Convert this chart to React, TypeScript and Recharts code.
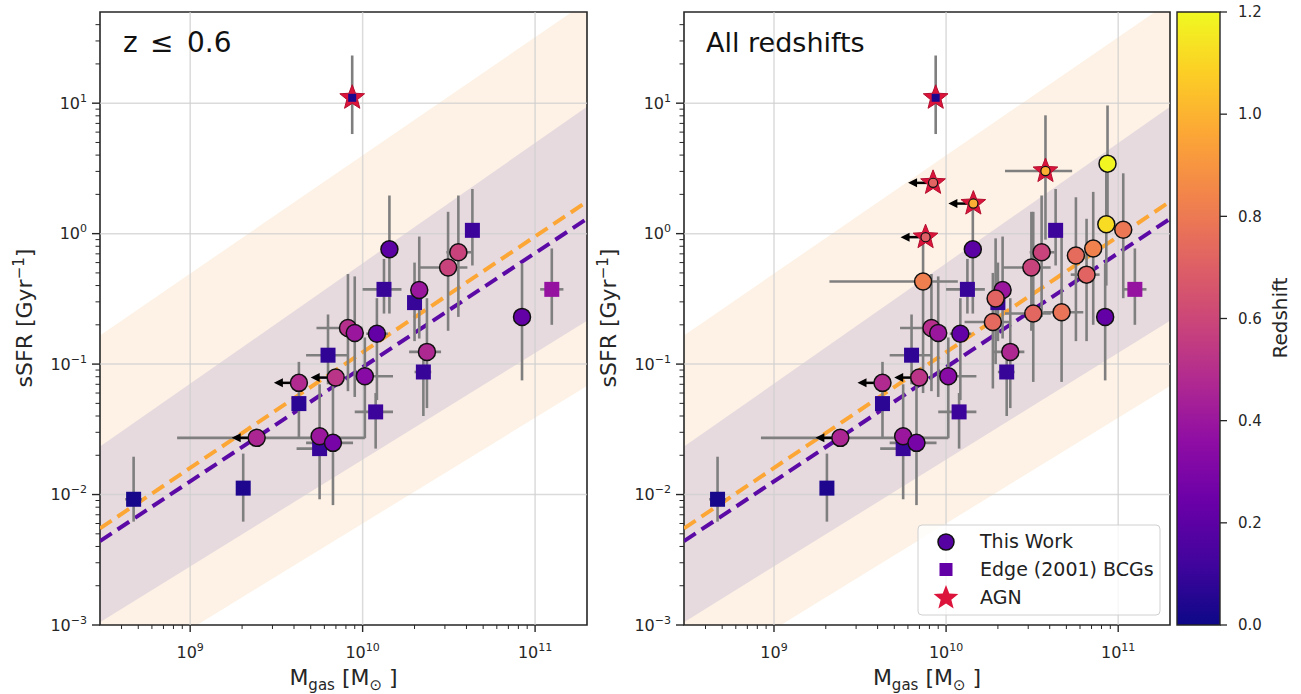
import React from "react";
import {
  Area,
  ComposedChart,
  ErrorBar,
  Line,
  ReferenceArea,
  ReferenceLine,
  Scatter,
  XAxis,
  YAxis,
} from "recharts";

type Pt = {
  m: number;
  s: number;
  z: number;
  mLo?: number;
  mHi?: number;
  sLo?: number;
  sHi?: number;
  lim?: boolean;
  host?: "edge" | "work";
};

// "This Work" clusters (circles)
const THIS_WORK: Pt[] = [
  { m: 2.43e9, s: 0.0272, z: 0.46, mLo: 8.4e8, mHi: 1.03e10, lim: true },
  { m: 4.27e9, s: 0.0718, z: 0.48, lim: true },
  { m: 6.98e9, s: 0.0788, z: 0.52, lim: true },
  { m: 5.63e9, s: 0.028, z: 0.4, sLo: 0.0092, sHi: 0.07 },
  { m: 6.73e9, s: 0.0249, z: 0.28, mLo: 4.7e9, mHi: 8.8e9, sLo: 0.0083, sHi: 0.079 },
  { m: 8.22e9, s: 0.189, z: 0.5, mLo: 5.4e9, mHi: 1.0e10, sLo: 0.062, sHi: 0.49 },
  { m: 9.0e9, s: 0.173, z: 0.4, sLo: 0.056, sHi: 0.47 },
  { m: 1.21e10, s: 0.171, z: 0.22, mLo: 1.05e10, mHi: 1.4e10, sLo: 0.053, sHi: 0.32 },
  { m: 1.03e10, s: 0.0806, z: 0.34, mLo: 9.2e9, mHi: 1.5e10, sLo: 0.027, sHi: 0.16 },
  { m: 1.43e10, s: 0.76, z: 0.2, sLo: 0.244, sHi: 1.96 },
  { m: 2.13e10, s: 0.37, z: 0.4, sLo: 0.157, sHi: 0.95 },
  { m: 2.36e10, s: 0.124, z: 0.47, mLo: 1.86e10, mHi: 2.85e10, sLo: 0.046, sHi: 0.32 },
  { m: 3.13e10, s: 0.55, z: 0.58, mLo: 2.14e10, mHi: 4.05e10, sLo: 0.18, sHi: 1.47 },
  { m: 3.59e10, s: 0.72, z: 0.58, mLo: 3.06e10, mHi: 4.27e10, sLo: 0.23, sHi: 1.96 },
  { m: 8.4e10, s: 0.23, z: 0.22, sLo: 0.075, sHi: 0.59 },
  { m: 7.35e9, s: 0.43, z: 0.82, mLo: 2.1e9, mHi: 1.17e10, sLo: 0.06, sHi: 0.94 },
  { m: 1.94e10, s: 0.318, z: 0.72, sLo: 0.1, sHi: 0.92 },
  { m: 1.87e10, s: 0.21, z: 0.74, mLo: 1.28e10, mHi: 2.33e10, sLo: 0.065, sHi: 0.5 },
  { m: 3.21e10, s: 0.244, z: 0.73, mLo: 2.2e10, mHi: 4.06e10, sLo: 0.073, sHi: 1.47 },
  { m: 4.69e10, s: 0.25, z: 0.78, mLo: 3.67e10, mHi: 6.27e10, sLo: 0.073, sHi: 1.0 },
  { m: 5.68e10, s: 0.68, z: 0.75, sLo: 0.15, sHi: 1.9 },
  { m: 6.55e10, s: 0.485, z: 0.72, mLo: 5.3e10, mHi: 7.8e10, sLo: 0.15, sHi: 1.3 },
  { m: 7.16e10, s: 0.77, z: 0.83, sLo: 0.2, sHi: 2.09 },
  { m: 8.53e10, s: 1.18, z: 1.12, mLo: 7.9e10, mHi: 9.2e10, sLo: 0.4, sHi: 3.3 },
  { m: 8.67e10, s: 3.44, z: 1.19, sLo: 1.1, sHi: 9.6 },
  { m: 1.07e11, s: 1.07, z: 0.79, sLo: 0.32, sHi: 2.9 },
];

// Edge (2001) BCGs (squares)
const EDGE_BCGS: Pt[] = [
  { m: 4.7e8, s: 0.0092, z: 0.02, mLo: 4.2e8, mHi: 5.25e8, sLo: 0.0062, sHi: 0.0195 },
  { m: 2.03e9, s: 0.0112, z: 0.04, sLo: 0.0062, sHi: 0.0206 },
  { m: 4.27e9, s: 0.0498, z: 0.07, sLo: 0.0269, sHi: 0.104 },
  { m: 5.63e9, s: 0.0225, z: 0.1, mLo: 4.14e9, mHi: 6.72e9 },
  { m: 6.3e9, s: 0.117, z: 0.08, mLo: 4.7e9, mHi: 8.2e9, sLo: 0.07, sHi: 0.24 },
  { m: 1.19e10, s: 0.043, z: 0.11, mLo: 9.0e9, mHi: 1.5e10, sLo: 0.0225, sHi: 0.06 },
  { m: 1.33e10, s: 0.374, z: 0.1, mLo: 1.0e10, mHi: 1.68e10, sLo: 0.244, sHi: 0.64 },
  { m: 2.0e10, s: 0.296, z: 0.1, sLo: 0.15, sHi: 0.6 },
  { m: 2.25e10, s: 0.087, z: 0.1, mLo: 2.0e10, mHi: 2.5e10, sLo: 0.04, sHi: 0.14 },
  { m: 4.33e10, s: 1.06, z: 0.11, sLo: 0.57, sHi: 2.2 },
  { m: 1.25e11, s: 0.374, z: 0.38, mLo: 1.07e11, mHi: 1.46e11, sLo: 0.2, sHi: 0.77 },
];

// AGN hosts (stars)
const AGN: Pt[] = [
  { m: 8.7e9, s: 11.0, z: 0.03, host: "edge", sLo: 5.8, sHi: 23.2 },
  { m: 8.4e9, s: 2.45, z: 0.72, host: "work", lim: true },
  { m: 1.44e10, s: 1.7, z: 0.98, host: "work", lim: true },
  { m: 7.6e9, s: 0.94, z: 0.7, host: "work", lim: true },
  { m: 3.78e10, s: 3.02, z: 0.98, host: "work", mLo: 2.2e10, mHi: 5.4e10, sLo: 0.9, sHi: 8.07 },
];

// fits and scatter bands, read at the two x-limits
const FIT_MASS = [3e8, 2e11];
const FIT_ORANGE = [0.0055, 1.76];
const FIT_PURPLE = [0.0044, 1.3];
const OUTER_LO = [0.00035, 0.068];
const OUTER_HI = [0.166, 60];
const INNER_LO = [0.00105, 0.215];
const INNER_HI = [0.0233, 9.4];

const X_MAJOR = [1e9, 1e10, 1e11];
const X_MINOR = [
  4e8, 5e8, 6e8, 7e8, 8e8, 9e8, 2e9, 3e9, 4e9, 5e9, 6e9, 7e9, 8e9, 9e9, 2e10,
  3e10, 4e10, 5e10, 6e10, 7e10, 8e10, 9e10,
];
const Y_MAJOR = [0.001, 0.01, 0.1, 1, 10];
const Y_MINOR = [
  0.002, 0.003, 0.004, 0.005, 0.006, 0.007, 0.008, 0.009, 0.02, 0.03, 0.04,
  0.05, 0.06, 0.07, 0.08, 0.09, 0.2, 0.3, 0.4, 0.5, 0.6, 0.7, 0.8, 0.9, 2, 3,
  4, 5, 6, 7, 8, 9, 20, 30, 40,
];
const Z_TICKS = [0, 0.2, 0.4, 0.6, 0.8, 1.0, 1.2];

const PLASMA = [
  "#0d0887", "#41049d", "#6a00a8", "#8f0da4", "#b12a90", "#cc4778",
  "#e16462", "#f2844b", "#fca636", "#fcce25", "#f0f921",
];

const FONT = "DejaVu Sans, sans-serif";
const INK = "#262626";

function plasma(z: number) {
  const t = Math.min(1, Math.max(0, z / 1.2)) * 10;
  const i = Math.min(9, Math.floor(t));
  const f = t - i;
  const a = PLASMA[i];
  const b = PLASMA[i + 1];
  const ch = (h: string, k: number) => parseInt(h.slice(k, k + 2), 16);
  const mix = (k: number) => Math.round(ch(a, k) + (ch(b, k) - ch(a, k)) * f);
  return `rgb(${mix(1)},${mix(3)},${mix(5)})`;
}

const fitRows = FIT_MASS.map((m, i) => ({
  m,
  orange: FIT_ORANGE[i],
  purple: FIT_PURPLE[i],
  outer: [OUTER_LO[i], OUTER_HI[i]],
  inner: [INNER_LO[i], INNER_HI[i]],
}));

const withErr = (p: Pt) => ({
  ...p,
  ex: p.mLo != null ? [p.m - p.mLo, (p.mHi as number) - p.m] : null,
  ey: p.sLo != null ? [p.s - p.sLo, (p.sHi as number) - p.s] : null,
});

const expLabel = (v: number) => {
  const e = Math.round(Math.log10(v));
  return e < 0 ? "\u2212" + -e : String(e);
};

function XTick(props: any) {
  const { x, y, payload } = props;
  const major = X_MAJOR.includes(payload.value);
  return (
    <g>
      <line x1={x} x2={x} y1={y} y2={y + (major ? 7 : 4)} stroke={INK} strokeWidth={major ? 1.4 : 1} />
      {major && (
        <text x={x} y={y + 33} textAnchor="middle" fontSize={16} fill={INK} fontFamily={FONT}>
          10<tspan dy={-7} fontSize={11}>{expLabel(payload.value)}</tspan>
        </text>
      )}
    </g>
  );
}

function YTick(props: any) {
  const { x, y, payload } = props;
  const major = Y_MAJOR.includes(payload.value);
  return (
    <g>
      <line x1={x} x2={x - (major ? 8 : 4.5)} y1={y} y2={y} stroke={INK} strokeWidth={major ? 1.4 : 1} />
      {major && (
        <text x={x - 13} y={y + 5.5} textAnchor="end" fontSize={16} fill={INK} fontFamily={FONT}>
          10<tspan dy={-7} fontSize={11}>{expLabel(payload.value)}</tspan>
        </text>
      )}
    </g>
  );
}

function YTitle({ px }: any) {
  return (
    <text
      transform={`translate(${px}, 318) rotate(-90)`}
      textAnchor="middle"
      fontSize={22}
      fill={INK}
      fontFamily={FONT}
    >
      sSFR [Gyr<tspan dy={-8} fontSize={15}>{"\u22121"}</tspan>
      <tspan dy={8}>]</tspan>
    </text>
  );
}

function XTitle({ px }: any) {
  return (
    <text x={px} y={685} textAnchor="middle" fontSize={22} fill={INK} fontFamily={FONT}>
      M<tspan dy={5} fontSize={15}>gas</tspan>
      <tspan dy={-5}> [M</tspan>
      <tspan dy={5} fontSize={15}>{"\u2299"}</tspan>
      <tspan dy={-5}> ]</tspan>
    </text>
  );
}

function LimitArrow({ cx, cy }: { cx: number; cy: number }) {
  return (
    <g>
      <line x1={cx} y1={cy} x2={cx - 17} y2={cy} stroke="#000" strokeWidth={2.5} />
      <polygon points={`${cx - 25},${cy} ${cx - 16},${cy - 4.5} ${cx - 16},${cy + 4.5}`} fill="#000" />
    </g>
  );
}

function CircleMark(props: any) {
  const { cx, cy, payload } = props;
  return (
    <g>
      {payload.lim && <LimitArrow cx={cx} cy={cy} />}
      <circle cx={cx} cy={cy} r={8.5} fill={plasma(payload.z)} stroke="#111" strokeWidth={1.5} />
    </g>
  );
}

function SquareMark(props: any) {
  const { cx, cy, payload } = props;
  return <rect x={cx - 7.5} y={cy - 7.5} width={15} height={15} fill={plasma(payload.z)} />;
}

function starPoints(cx: number, cy: number, R: number, r: number) {
  const pts: string[] = [];
  for (let i = 0; i < 10; i++) {
    const a = -Math.PI / 2 + (i * Math.PI) / 5;
    const rad = i % 2 === 0 ? R : r;
    pts.push(`${cx + rad * Math.cos(a)},${cy + rad * Math.sin(a)}`);
  }
  return pts.join(" ");
}

function StarMark(props: any) {
  const { cx, cy, payload } = props;
  return (
    <g>
      {payload.lim && <LimitArrow cx={cx} cy={cy} />}
      <polygon points={starPoints(cx, cy, 13, 5.6)} fill="#dc143c" stroke="#b3102f" strokeWidth={1} />
      {payload.host === "edge" ? (
        <rect x={cx - 4} y={cy - 4} width={8} height={8} fill={plasma(payload.z)} />
      ) : (
        <circle cx={cx} cy={cy} r={4.6} fill={plasma(payload.z)} stroke="#111" strokeWidth={1.2} />
      )}
    </g>
  );
}

const Empty = () => <g />;

function Panel({ width, axisWidth, rightMargin, maxZ }: any) {
  const circles = THIS_WORK.filter((p) => p.z <= maxZ);
  const stars = AGN.filter((p) => p.z <= maxZ);
  const errs = [...EDGE_BCGS, ...circles, ...stars].map(withErr);
  return (
    <ComposedChart
      width={width}
      height={694}
      data={fitRows}
      margin={{ top: 12, right: rightMargin, bottom: 0, left: 0 }}
    >
      <XAxis
        dataKey="m"
        type="number"
        scale="log"
        domain={[3e8, 2e11]}
        allowDataOverflow
        ticks={[...X_MAJOR, ...X_MINOR]}
        interval={0}
        tick={(p: any) => <XTick {...p} />}
        tickLine={false}
        axisLine={false}
        tickSize={0}
        tickMargin={0}
        height={69}
        label={<XTitle px={axisWidth + (width - axisWidth - rightMargin) / 2} />}
      />
      <YAxis
        type="number"
        scale="log"
        domain={[0.001, 50]}
        allowDataOverflow
        ticks={[...Y_MAJOR, ...Y_MINOR]}
        interval={0}
        tick={(p: any) => <YTick {...p} />}
        tickLine={false}
        axisLine={false}
        tickSize={0}
        tickMargin={0}
        width={axisWidth}
        label={<YTitle px={axisWidth - 68} />}
      />
      <Area dataKey="outer" type="linear" stroke="none" fill="#fdf2e5" fillOpacity={1} dot={false} activeDot={false} isAnimationActive={false} />
      <Area dataKey="inner" type="linear" stroke="none" fill="#e7dadf" fillOpacity={1} dot={false} activeDot={false} isAnimationActive={false} />
      {X_MAJOR.map((v) => (
        <ReferenceLine key={`gx${v}`} x={v} stroke="#cfcfcf" strokeOpacity={0.75} strokeWidth={1.5} />
      ))}
      {Y_MAJOR.filter((v) => v > 0.001).map((v) => (
        <ReferenceLine key={`gy${v}`} y={v} stroke="#cfcfcf" strokeOpacity={0.75} strokeWidth={1.5} />
      ))}
      <Line dataKey="orange" type="linear" stroke="#fca636" strokeWidth={4} strokeDasharray="14 7" dot={false} activeDot={false} isAnimationActive={false} />
      <Line dataKey="purple" type="linear" stroke="#5c0aa5" strokeWidth={4} strokeDasharray="14 7" dot={false} activeDot={false} isAnimationActive={false} />
      <Scatter data={errs} dataKey="s" shape={Empty} isAnimationActive={false}>
        <ErrorBar dataKey="ex" direction="x" width={0} stroke="#7f7f7f" strokeWidth={2.6} isAnimationActive={false} />
        <ErrorBar dataKey="ey" direction="y" width={0} stroke="#7f7f7f" strokeWidth={2.6} isAnimationActive={false} />
      </Scatter>
      <Scatter data={EDGE_BCGS} dataKey="s" shape={(p: any) => <SquareMark {...p} />} isAnimationActive={false} />
      <Scatter data={circles} dataKey="s" shape={(p: any) => <CircleMark {...p} />} isAnimationActive={false} />
      <Scatter data={stars} dataKey="s" shape={(p: any) => <StarMark {...p} />} isAnimationActive={false} />
      <ReferenceArea x1={3e8} x2={2e11} y1={0.001} y2={50} fill="none" stroke={INK} strokeWidth={1.6} />
    </ComposedChart>
  );
}

const cbarRows = [
  { x: 0, y: 0 },
  { x: 1, y: 1.2 },
];

function ColorBar() {
  return (
    <ComposedChart width={110} height={694} data={cbarRows} margin={{ top: 12, right: 0, bottom: 69, left: 7 }}>
      <XAxis dataKey="x" type="number" domain={[0, 1]} hide />
      <YAxis
        orientation="right"
        type="number"
        domain={[0, 1.2]}
        ticks={Z_TICKS}
        interval={0}
        width={60}
        axisLine={false}
        tickSize={7}
        tickMargin={11}
        tickLine={{ stroke: INK, strokeWidth: 1.3 }}
        tickFormatter={(v: number) => v.toFixed(1)}
        tick={{ fontSize: 15, fill: INK, fontFamily: FONT }}
      />
      <Line dataKey="y" stroke="none" dot={false} activeDot={false} isAnimationActive={false} />
      <ReferenceArea x1={0} x2={1} y1={0} y2={1.2} fill="url(#plasmaGrad)" fillOpacity={1} stroke={INK} strokeWidth={1.4} />
    </ComposedChart>
  );
}

function LegendBox() {
  return (
    <g fontFamily={FONT} fontSize={19} fill="#222">
      <rect x={918} y={525} width={242} height={90} rx={4} fill="#ffffff" fillOpacity={0.8} stroke="#d0d0d0" />
      <circle cx={946} cy={542} r={8} fill={plasma(0.18)} stroke="#111" strokeWidth={1.5} />
      <text x={980} y={548}>This Work</text>
      <rect x={939.5} y={563} width={13} height={13} fill={plasma(0.22)} />
      <text x={980} y={576}>Edge (2001) BCGs</text>
      <polygon points={starPoints(946, 598, 13, 5.6)} fill="#dc143c" />
      <text x={980} y={604}>AGN</text>
    </g>
  );
}

export default function App() {
  return (
    <div
      style={{
        position: "absolute",
        left: 0,
        top: 0,
        width: 1301,
        height: 694,
        background: "#fff",
        overflow: "hidden",
      }}
    >
      <svg width={0} height={0} style={{ position: "absolute" }}>
        <defs>
          <linearGradient id="plasmaGrad" x1="0" y1="1" x2="0" y2="0">
            {PLASMA.map((c, i) => (
              <stop key={c} offset={`${i * 10}%`} stopColor={c} />
            ))}
          </linearGradient>
        </defs>
      </svg>
      <div style={{ position: "absolute", left: 0, top: 0 }}>
        <Panel width={600} axisWidth={100} rightMargin={13} maxZ={0.6} />
      </div>
      <div style={{ position: "absolute", left: 580, top: 0 }}>
        <Panel width={600} axisWidth={104} rightMargin={10} maxZ={2} />
      </div>
      <div style={{ position: "absolute", left: 1170, top: 0 }}>
        <ColorBar />
      </div>
      <svg
        width={1301}
        height={694}
        style={{ position: "absolute", left: 0, top: 0, pointerEvents: "none" }}
      >
        <text y={52} fontSize={28} fill="#111" fontFamily={FONT}>
          <tspan x={123}>z</tspan>
          <tspan x={150}>{"\u2264"}</tspan>
          <tspan x={187}>0.6</tspan>
        </text>
        <text x={706} y={52} fontSize={27} fill="#111" fontFamily={FONT}>
          All redshifts
        </text>
        <text
          transform="translate(1287, 318) rotate(-90)"
          textAnchor="middle"
          fontSize={20}
          fill={INK}
          fontFamily={FONT}
        >
          Redshift
        </text>
        <LegendBox />
      </svg>
    </div>
  );
}
